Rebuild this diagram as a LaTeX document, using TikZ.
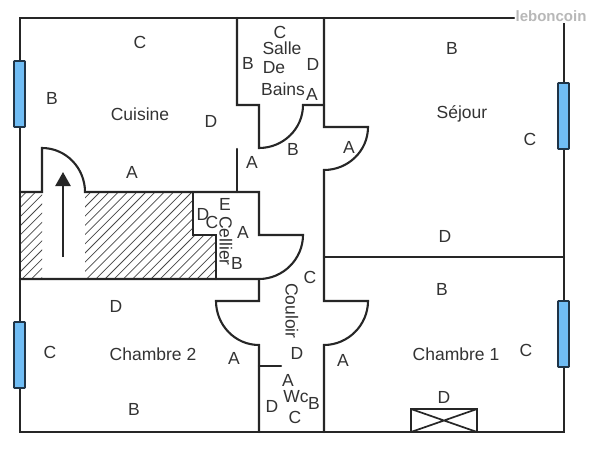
\documentclass[tikz,border=0pt]{standalone}
\usepackage{fontspec}
\setmainfont{Liberation Sans}
\usetikzlibrary{arrows.meta}
\definecolor{wallc}{HTML}{262626}
\definecolor{textc}{HTML}{333333}
\definecolor{winfill}{HTML}{70BDF5}
\definecolor{winline}{HTML}{1F3447}
\tikzset{
  wall/.style={draw=wallc,line width=2.1pt,line join=miter,line cap=round},
  win/.style={draw=winline,fill=winfill,line width=1.6pt,rounded corners=0.5pt},
  hatchline/.style={draw=wallc!85,line width=0.75pt},
  lbl/.style={text=textc,inner sep=0pt,font=\fontsize{17.5}{19}\selectfont},
  lblv/.style={lbl,rotate=-90}
}
\begin{document}
\begin{tikzpicture}[x=1pt,y=-1pt]
\useasboundingbox (0,0) rectangle (600,450);
\fill[white] (0,0) rectangle (600,450);
% hatching
\begin{scope}
\clip (20,192) rectangle (42,279) (85,192) -- (193,192) -- (193,235) -- (216,235) -- (216,279) -- (85,279) -- cycle;
\foreach \i in {0,...,36}{
  \draw[hatchline] ({-90+9.2*\i},290) -- ({-90+9.2*\i+110},180);
}
\end{scope}
% walls
\draw[wall] (514,18) -- (20,18) -- (20,432) -- (564,432) -- (564,20);
\draw[wall] (20,192) -- (42,192) -- (42,148) .. controls (66,148) and (85,168) .. (85,192) -- (259,192) -- (259,235) -- (303,235) .. controls (303,259) and (283,279) .. (259,279) -- (20,279);
\draw[wall] (193,192) -- (193,235) -- (216,235) -- (216,279);
\draw[wall] (237,149) -- (237,192);
\draw[wall] (237,18) -- (237,105) -- (259,105) -- (259,148) .. controls (283,148) and (303,129) .. (303,105) -- (324,105);
\draw[wall] (324,18) -- (324,127) -- (368,127) .. controls (368,151) and (348,170) .. (324,170) -- (324,301) -- (368,301) .. controls (368,325) and (348,345) .. (324,345) -- (324,432);
\draw[wall] (324,257) -- (564,257);
\draw[wall] (259,279) -- (259,301) -- (216,301) .. controls (216,325) and (235,345) .. (259,345) -- (259,432);
\draw[wall] (259,366) -- (281,366);
% stair arrow
\draw[draw=wallc,line width=2.4pt,-{Triangle[length=14pt,width=15pt]}] (63,257) -- (63,172);
% windows
\draw[win] (14,61) rectangle (25,127);
\draw[win] (14,322) rectangle (25,388);
\draw[win] (558,83) rectangle (569,149);
\draw[win] (558,301) rectangle (569,367);
% vent
\draw[wall,line width=1.7pt,fill=white] (411,409) rectangle (477,432);
\draw[wall,line width=1.7pt] (411,409) -- (477,432) (411,432) -- (477,409);
% labels
\node[lbl] (c1) at (140,42) {C};
\node[lbl] (b1) at (52,98) {B};
\node[lbl] (cuisine) at (140,114) {Cuisine};
\node[lbl] (d1) at (211,121) {D};
\node[lbl] (a1) at (132,172) {A};
\node[lbl] (c2) at (280,32) {C};
\node[lbl] (salle) at (282,48) {Salle};
\node[lbl] (de) at (274,68) {De};
\node[lbl] (bains) at (283,89) {Bains};
\node[lbl] (b2) at (248,63) {B};
\node[lbl] (d2) at (313,64) {D};
\node[lbl] (a2) at (312,94) {A};
\node[lbl] (b3) at (293,149) {B};
\node[lbl] (a3) at (252,162) {A};
\node[lbl] (a4) at (349,147) {A};
\node[lbl] (b4) at (452,48) {B};
\node[lbl] (sejour) at (462,114) {Séjour};
\node[lbl] (c3) at (530,139) {C};
\node[lbl] (d3) at (445,236) {D};
\node[lbl] (e1) at (225,204) {E};
\node[lbl] (d4) at (203,214) {D};
\node[lbl] (c4) at (212,222) {C};
\node[lblv] (cellier) at (226,241) {Cellier};
\node[lbl] (a5) at (243,232) {A};
\node[lbl] (b5) at (237,263) {B};
\node[lbl] (c5) at (310,277) {C};
\node[lblv] (couloir) at (292,311) {Couloir};
\node[lbl] (d5) at (297,353) {D};
\node[lbl] (a6) at (234,358) {A};
\node[lbl] (a7) at (343,360) {A};
\node[lbl] (a8) at (288,380) {A};
\node[lbl] (wc) at (296,397) {Wc};
\node[lbl] (b6) at (314,403) {B};
\node[lbl] (d6) at (272,406) {D};
\node[lbl] (c6) at (295,417) {C};
\node[lbl] (d7) at (116,306) {D};
\node[lbl] (c7) at (50,352) {C};
\node[lbl] (ch2) at (153,354) {Chambre 2};
\node[lbl] (b7) at (134,409) {B};
\node[lbl] (b8) at (442,289) {B};
\node[lbl] (ch1) at (456,354) {Chambre 1};
\node[lbl] (c8) at (526,350) {C};
\node[lbl] (d8) at (444,397) {D};
% watermark
\node[inner sep=1pt,fill=white,text=black!28,font=\fontsize{15}{16}\selectfont\bfseries] (wm) at (551,16) {leboncoin};
\end{tikzpicture}
\end{document}
